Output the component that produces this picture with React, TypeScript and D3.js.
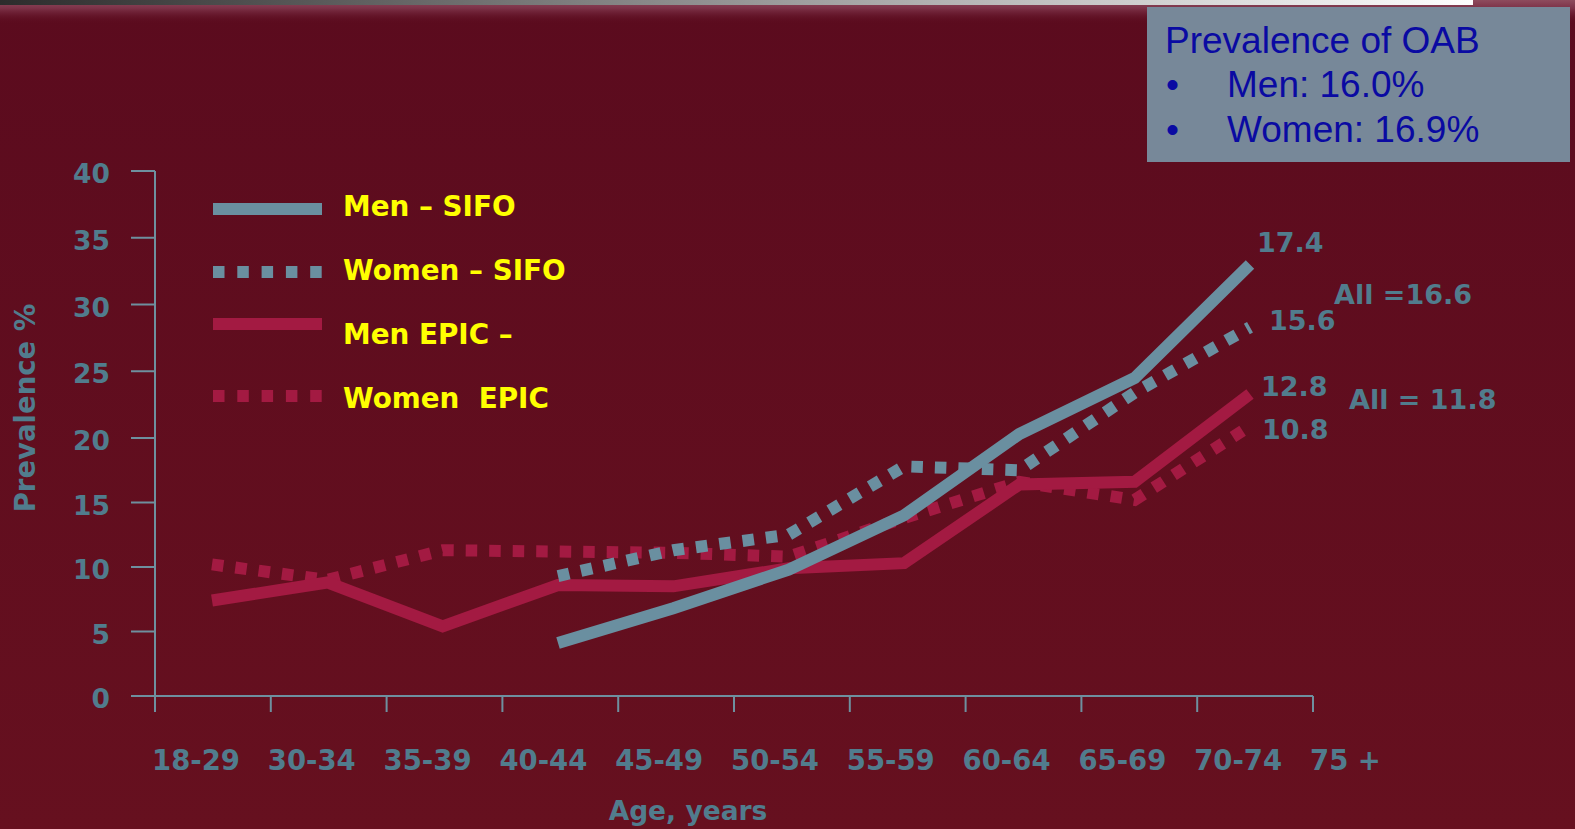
import React from "react";
import * as d3 from "d3";

// Age bands on the x axis
const ageGroups = ["18-29", "30-34", "35-39", "40-44", "45-49", "50-54", "55-59", "60-64", "65-69", "70-74", "75 +"];
// Bands that carry data points
const dataGroups = ageGroups.slice(0, 10);

// Prevalence (%) per age band; null = not surveyed
const menSIFO: (number | null)[] = [null, null, null, 4.1, 6.8, 9.8, 14.0, 20.3, 24.5, 33.0];
const womenSIFO: (number | null)[] = [null, null, null, 9.3, 11.3, 12.5, 17.8, 17.5, 23.4, 28.3];
const menEPIC: (number | null)[] = [7.4, 8.8, 5.4, 8.6, 8.5, 9.9, 10.3, 16.4, 16.6, 23.3];
const womenEPIC: (number | null)[] = [10.2, 9.0, 11.3, 11.2, 11.1, 10.8, 13.8, 16.6, 15.2, 20.9];

const yTicks = [0, 5, 10, 15, 20, 25, 30, 35, 40];

// End-of-line annotations
const endLabels = [
  { text: "17.4", x: 1257, y: 252 },
  { text: "All =16.6", x: 1334, y: 304 },
  { text: "15.6", x: 1269, y: 330 },
  { text: "12.8", x: 1261, y: 396 },
  { text: "All = 11.8", x: 1349, y: 409 },
  { text: "10.8", x: 1262, y: 439 },
];

const legendItems = [
  { label: "Men \u2013 SIFO", color: "#6a8fa0", dotted: false },
  { label: "Women \u2013 SIFO", color: "#6a8fa0", dotted: true },
  { label: "Men EPIC \u2013", color: "#a31a42", dotted: false },
  { label: "Women  EPIC", color: "#a31a42", dotted: true },
];

const summaryTitle = "Prevalence of OAB";
const summaryItems = ["Men: 16.0%", "Women: 16.9%"];

const BLUE = "#6a8fa0";
const RED = "#a31a42";
const AXIS = "#6e909f";
const LABEL = "#517c8d";
const BOLD_FONT = "'DejaVu Sans', Verdana, sans-serif";

export default function App() {
  const W = 1575;
  const H = 829;

  const y = d3.scaleLinear().domain([0, 20, 40]).range([696, 438, 171]);
  const xAxis = d3.scalePoint<string>().domain(ageGroups).range([155, 1313]);
  const xData = d3.scalePoint<string>().domain(dataGroups).range([212, 1250]);

  const line = d3
    .line<number | null>()
    .defined((d) => d !== null)
    .x((_, i) => xData(dataGroups[i]) as number)
    .y((d) => y(d as number));

  const series = [
    { values: womenEPIC, color: RED, dotted: true },
    { values: menEPIC, color: RED, dotted: false },
    { values: womenSIFO, color: BLUE, dotted: true },
    { values: menSIFO, color: BLUE, dotted: false },
  ];

  const legendY = [209, 272, 324, 396];
  const legendBase = [216, 280, 344, 408];

  return (
    <svg
      width={W}
      height={H}
      viewBox={`0 0 ${W} ${H}`}
      style={{ position: "absolute", left: 0, top: 0, display: "block" }}
    >
      <defs>
        <linearGradient id="bg" x1="0" y1="0" x2="0" y2="1">
          <stop offset="0" stopColor="#5b0b1e" />
          <stop offset="1" stopColor="#66101f" />
        </linearGradient>
        <linearGradient id="topGlow" x1="0" y1="0" x2="0" y2="1">
          <stop offset="0" stopColor="#8e4c5e" />
          <stop offset="0.35" stopColor="#7c3147" />
          <stop offset="1" stopColor="#5b0b1e" stopOpacity="0" />
        </linearGradient>
        <linearGradient id="topBar" x1="0" y1="0" x2="1" y2="0">
          <stop offset="0" stopColor="#2c2c2c" />
          <stop offset="1" stopColor="#ffffff" />
        </linearGradient>
      </defs>

      <rect x={0} y={0} width={W} height={H} fill="url(#bg)" />
      <rect x={0} y={0} width={W} height={24} fill="url(#topGlow)" />
      <rect x={0} y={0} width={1473} height={5} fill="url(#topBar)" />

      {/* summary box */}
      <rect x={1147} y={7} width={423} height={155} fill="#778899" />
      <g fontFamily="'Liberation Sans', Arial, sans-serif" fontSize={37} fill="#0a0aa2">
        <text x={1165} y={53}>{summaryTitle}</text>
        {summaryItems.map((s, i) => (
          <g key={s}>
            <text x={1166} y={97 + i * 45}>{"\u2022"}</text>
            <text x={1227} y={97 + i * 45}>{s}</text>
          </g>
        ))}
      </g>

      {/* y axis */}
      <line x1={155} x2={155} y1={y(40)} y2={712} stroke={AXIS} strokeWidth={2} />
      {yTicks.map((t) => (
        <g key={t}>
          <line x1={131} x2={155} y1={y(t)} y2={y(t)} stroke={AXIS} strokeWidth={2} />
          <text
            x={110}
            y={y(t) + 12}
            textAnchor="end"
            fontFamily={BOLD_FONT}
            fontWeight="bold"
            fontSize={26.5}
            fill={LABEL}
          >
            {t}
          </text>
        </g>
      ))}
      <text
        transform="translate(35,408) rotate(-90)"
        textAnchor="middle"
        fontFamily={BOLD_FONT}
        fontWeight="bold"
        fontSize={27.5}
        fill={LABEL}
      >
        Prevalence %
      </text>

      {/* x axis */}
      <line x1={139} x2={xAxis("75 +") as number} y1={y(0)} y2={y(0)} stroke={AXIS} strokeWidth={2} />
      {ageGroups.map((g) => {
        const gx = xAxis(g) as number;
        return (
          <g key={g}>
            <line x1={gx} x2={gx} y1={y(0)} y2={712} stroke={AXIS} strokeWidth={2} />
            <text
              x={gx - 3}
              y={770}
              fontFamily={BOLD_FONT}
              fontWeight="bold"
              fontSize={27.5}
              fill={LABEL}
            >
              {g}
            </text>
          </g>
        );
      })}
      <text
        x={688}
        y={820}
        textAnchor="middle"
        fontFamily={BOLD_FONT}
        fontWeight="bold"
        fontSize={26.5}
        fill={LABEL}
      >
        Age, years
      </text>

      {/* series */}
      {series.map((s, i) => (
        <path
          key={i}
          d={line(s.values) || ""}
          fill="none"
          stroke={s.color}
          strokeWidth={12}
          strokeDasharray={s.dotted ? "11.5 12" : undefined}
          strokeLinejoin="miter"
          strokeLinecap="butt"
        />
      ))}

      {/* end-of-line values */}
      {endLabels.map((l) => (
        <text
          key={l.text}
          x={l.x}
          y={l.y}
          fontFamily={BOLD_FONT}
          fontWeight="bold"
          fontSize={27}
          fill={LABEL}
          style={{ whiteSpace: "pre" }}
        >
          {l.text}
        </text>
      ))}

      {/* legend */}
      {legendItems.map((item, i) => (
        <g key={item.label}>
          <line
            x1={213}
            x2={322}
            y1={legendY[i]}
            y2={legendY[i]}
            stroke={item.color}
            strokeWidth={12}
            strokeDasharray={item.dotted ? "11.5 12.8" : undefined}
          />
          <text
            x={343}
            y={legendBase[i]}
            fontFamily={BOLD_FONT}
            fontWeight="bold"
            fontSize={27.8}
            fill="#ffff00"
            style={{ whiteSpace: "pre" }}
          >
            {item.label}
          </text>
        </g>
      ))}
    </svg>
  );
}
